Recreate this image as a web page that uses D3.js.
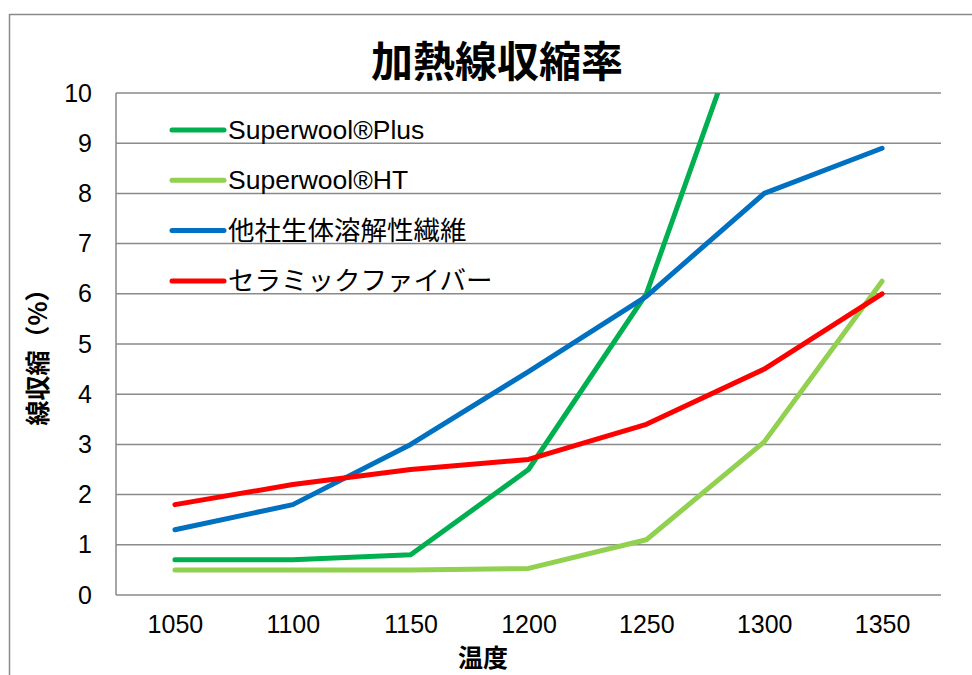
<!DOCTYPE html>
<html>
<head>
<meta charset="utf-8">
<script src="https://cdn.jsdelivr.net/npm/d3@7"></script>
<style>
  body { margin: 0; background: #fff; }
  svg { display: block; }
</style>
</head>
<body>
<svg id="chart" width="972" height="675"></svg>
<script>
// 加熱線収縮率 line chart

const temps = ["1050", "1100", "1150", "1200", "1250", "1300", "1350"];
const plusValues = [0.7, 0.7, 0.8, 2.5, 6.0, 12.6, null];
const htValues = [0.5, 0.5, 0.5, 0.53, 1.1, 3.05, 6.25];
const otherValues = [1.3, 1.8, 3.0, 4.45, 5.95, 8.0, 8.9];
const ceramicValues = [1.8, 2.2, 2.5, 2.7, 3.4, 4.5, 6.0];
const yTicks = [0, 1, 2, 3, 4, 5, 6, 7, 8, 9, 10];

const series = [
  { name: "Superwool®Plus", values: plusValues, color: "#00b050" },
  { name: "Superwool®HT", values: htValues, color: "#92d050" },
  { name: "他社生体溶解性繊維", values: otherValues, color: "#0070c0" },
  { name: "セラミックファイバー", values: ceramicValues, color: "#ff0000" }
];

const plot = { left: 116, right: 941, top: 93, bottom: 595 };
const latin = "'Liberation Sans', Arial, sans-serif";
const cjk = "'Liberation Sans', 'Noto Sans CJK JP', sans-serif";

const svg = d3.select("#chart");

const x = d3.scalePoint()
    .domain(temps)
    .range([plot.left, plot.right])
    .padding(0.5);

const y = d3.scaleLinear()
    .domain([0, 10])
    .range([plot.bottom, plot.top]);

// outer chart border (cut by the picture edge)
svg.append("rect")
    .attr("x", 9.5).attr("y", 14.5)
    .attr("width", 1000).attr("height", 700)
    .attr("fill", "none")
    .attr("stroke", "#8a8a8a")
    .attr("stroke-width", 1.5);

// gridlines
svg.append("g")
    .selectAll("line")
    .data(yTicks)
    .join("line")
    .attr("x1", plot.left).attr("x2", plot.right)
    .attr("y1", d => y(d)).attr("y2", d => y(d))
    .attr("stroke", "#8a8a8a")
    .attr("stroke-width", 1.5);

svg.append("line")
    .attr("x1", plot.left).attr("x2", plot.left)
    .attr("y1", plot.top).attr("y2", plot.bottom)
    .attr("stroke", "#8a8a8a")
    .attr("stroke-width", 1.5);

// axes
const yAxis = svg.append("g")
    .attr("transform", `translate(${plot.left},0)`)
    .call(d3.axisLeft(y).tickValues(yTicks).tickSize(0).tickPadding(24));
yAxis.select(".domain").remove();
yAxis.selectAll("text")
    .attr("font-family", latin)
    .attr("font-size", 25)
    .attr("fill", "#000");

const xAxis = svg.append("g")
    .attr("transform", `translate(0,${plot.bottom})`)
    .call(d3.axisBottom(x).tickSize(0).tickPadding(20));
xAxis.select(".domain").remove();
xAxis.selectAll("text")
    .attr("font-family", latin)
    .attr("font-size", 25)
    .attr("fill", "#000");

// lines
svg.append("clipPath")
    .attr("id", "plot-clip")
    .append("rect")
    .attr("x", plot.left).attr("y", plot.top)
    .attr("width", plot.right - plot.left)
    .attr("height", plot.bottom - plot.top);

const line = d3.line()
    .defined(d => d != null)
    .x((d, i) => x(temps[i]))
    .y(d => y(d));

svg.append("g")
    .attr("clip-path", "url(#plot-clip)")
    .selectAll("path")
    .data(series)
    .join("path")
    .attr("fill", "none")
    .attr("stroke", d => d.color)
    .attr("stroke-width", 5)
    .attr("stroke-linecap", "round")
    .attr("stroke-linejoin", "round")
    .attr("d", d => line(d.values));

// legend
const legend = svg.append("g")
    .selectAll("g")
    .data(series)
    .join("g")
    .attr("transform", (d, i) => `translate(170,${130 + i * 50.3})`);

legend.append("line")
    .attr("x1", 2).attr("x2", 54)
    .attr("stroke", d => d.color)
    .attr("stroke-width", 5)
    .attr("stroke-linecap", "round");

legend.append("text")
    .attr("x", 58)
    .attr("y", 9)
    .attr("font-family", cjk)
    .attr("font-size", 26.5)
    .attr("fill", "#000")
    .text(d => d.name);

// titles
svg.append("text")
    .attr("x", 497).attr("y", 77)
    .attr("text-anchor", "middle")
    .attr("font-family", "'Noto Sans CJK JP', sans-serif")
    .attr("font-weight", "bold")
    .attr("font-size", 42)
    .text("加熱線収縮率");

svg.append("text")
    .attr("transform", "translate(47,351) rotate(-90)")
    .attr("text-anchor", "middle")
    .attr("font-family", "'Noto Sans CJK JP', sans-serif")
    .attr("font-weight", "bold")
    .attr("font-size", 25)
    .text("線収縮（%）");

svg.append("text")
    .attr("x", 483).attr("y", 667)
    .attr("text-anchor", "middle")
    .attr("font-family", "'Noto Sans CJK JP', sans-serif")
    .attr("font-weight", "bold")
    .attr("font-size", 25)
    .text("温度");
</script>
</body>
</html>
